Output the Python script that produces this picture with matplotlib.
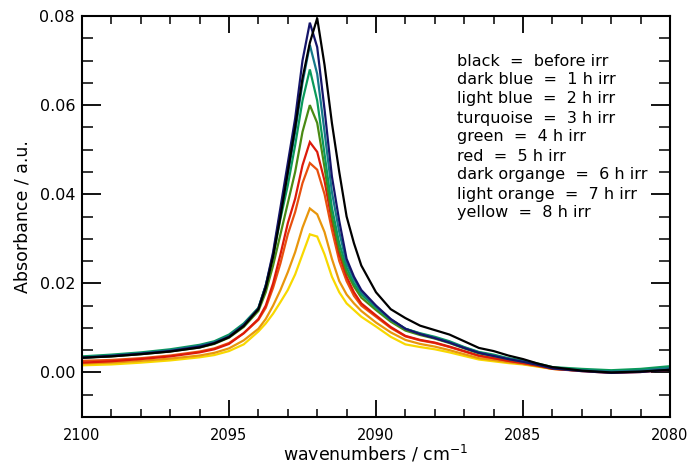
import matplotlib
matplotlib.use("Agg")
import matplotlib.pyplot as plt
from matplotlib.ticker import MultipleLocator, FormatStrFormatter

# Wavenumber grid (cm^-1), shared by all spectra
wavenumber = [2100, 2099, 2098, 2097, 2096, 2095.5, 2095, 2094.5, 2094, 2093.75,
              2093.5, 2093.25, 2093, 2092.75, 2092.5, 2092.25, 2092, 2091.75, 2091.5, 2091.25,
              2091, 2090.75, 2090.5, 2090, 2089.5, 2089, 2088.5, 2088, 2087.5, 2087,
              2086.5, 2086, 2085.5, 2085, 2084.5, 2084, 2083, 2082, 2081, 2080]

before_irr = [0.0033, 0.0036, 0.0041, 0.0047, 0.0056, 0.0065, 0.0079, 0.0104, 0.0142, 0.0190,
              0.0260, 0.0350, 0.0450, 0.0550, 0.0660, 0.0740, 0.0795, 0.0690, 0.0560, 0.0450,
              0.0350, 0.0290, 0.0240, 0.0180, 0.0142, 0.0122, 0.0105, 0.0095, 0.0085, 0.0070,
              0.0055, 0.0048, 0.0038, 0.0030, 0.0020, 0.0012, 0.0004, 0.0000, 0.0002, 0.0006]
irr_1h = [0.0033, 0.0037, 0.0042, 0.0048, 0.0058, 0.0066, 0.0080, 0.0106, 0.0143, 0.0195,
          0.0270, 0.0370, 0.0470, 0.0570, 0.0700, 0.0785, 0.0730, 0.0590, 0.0440, 0.0340,
          0.0255, 0.0215, 0.0185, 0.0150, 0.0120, 0.0098, 0.0086, 0.0077, 0.0067, 0.0055,
          0.0044, 0.0037, 0.0030, 0.0024, 0.0017, 0.0009, 0.0003, -0.0001, 0.0001, 0.0006]
irr_2h = [0.0034, 0.0038, 0.0043, 0.0050, 0.0060, 0.0068, 0.0082, 0.0108, 0.0144, 0.0195,
          0.0265, 0.0360, 0.0445, 0.0540, 0.0650, 0.0735, 0.0670, 0.0540, 0.0405, 0.0315,
          0.0245, 0.0210, 0.0180, 0.0148, 0.0119, 0.0098, 0.0087, 0.0078, 0.0068, 0.0056,
          0.0045, 0.0038, 0.0031, 0.0025, 0.0018, 0.0010, 0.0005, 0.0002, 0.0004, 0.0010]
irr_3h = [0.0036, 0.0040, 0.0045, 0.0052, 0.0062, 0.0070, 0.0085, 0.0110, 0.0145, 0.0195,
          0.0260, 0.0345, 0.0420, 0.0510, 0.0610, 0.0680, 0.0610, 0.0490, 0.0370, 0.0290,
          0.0235, 0.0200, 0.0175, 0.0145, 0.0118, 0.0098, 0.0088, 0.0080, 0.0070, 0.0057,
          0.0046, 0.0040, 0.0032, 0.0027, 0.0020, 0.0012, 0.0008, 0.0005, 0.0008, 0.0014]
irr_4h = [0.0033, 0.0036, 0.0041, 0.0047, 0.0056, 0.0064, 0.0078, 0.0102, 0.0138, 0.0180,
          0.0240, 0.0310, 0.0380, 0.0450, 0.0540, 0.0600, 0.0560, 0.0460, 0.0350, 0.0275,
          0.0225, 0.0193, 0.0168, 0.0140, 0.0114, 0.0094, 0.0084, 0.0076, 0.0066, 0.0054,
          0.0043, 0.0037, 0.0030, 0.0024, 0.0017, 0.0010, 0.0005, 0.0002, 0.0004, 0.0010]
irr_5h = [0.0022, 0.0025, 0.0030, 0.0036, 0.0045, 0.0052, 0.0064, 0.0088, 0.0120, 0.0150,
          0.0200, 0.0265, 0.0335, 0.0390, 0.0465, 0.0517, 0.0495, 0.0430, 0.0340, 0.0265,
          0.0215, 0.0180, 0.0155, 0.0128, 0.0102, 0.0082, 0.0073, 0.0067, 0.0058, 0.0048,
          0.0038, 0.0032, 0.0026, 0.0021, 0.0015, 0.0008, 0.0003, -0.0001, 0.0001, 0.0006]
irr_6h = [0.0026, 0.0028, 0.0032, 0.0038, 0.0047, 0.0054, 0.0066, 0.0088, 0.0118, 0.0145,
          0.0190, 0.0245, 0.0310, 0.0360, 0.0425, 0.0470, 0.0455, 0.0400, 0.0320, 0.0250,
          0.0205, 0.0172, 0.0150, 0.0125, 0.0100, 0.0081, 0.0072, 0.0066, 0.0057, 0.0047,
          0.0037, 0.0032, 0.0026, 0.0021, 0.0016, 0.0010, 0.0006, 0.0003, 0.0005, 0.0010]
irr_7h = [0.0020, 0.0022, 0.0026, 0.0031, 0.0038, 0.0044, 0.0054, 0.0072, 0.0098, 0.0120,
          0.0150, 0.0185, 0.0225, 0.0270, 0.0325, 0.0368, 0.0355, 0.0315, 0.0255, 0.0205,
          0.0175, 0.0155, 0.0138, 0.0112, 0.0090, 0.0073, 0.0064, 0.0058, 0.0050, 0.0041,
          0.0032, 0.0028, 0.0023, 0.0019, 0.0014, 0.0008, 0.0004, 0.0001, 0.0003, 0.0008]
irr_8h = [0.0016, 0.0018, 0.0022, 0.0027, 0.0034, 0.0039, 0.0048, 0.0063, 0.0092, 0.0110,
          0.0132, 0.0158, 0.0185, 0.0220, 0.0265, 0.0310, 0.0305, 0.0265, 0.0215, 0.0180,
          0.0155, 0.0140, 0.0125, 0.0103, 0.0080, 0.0063, 0.0057, 0.0052, 0.0045, 0.0037,
          0.0029, 0.0025, 0.0021, 0.0018, 0.0013, 0.0008, 0.0004, 0.0001, 0.0004, 0.0008]

series = [before_irr, irr_1h, irr_2h, irr_3h, irr_4h, irr_5h, irr_6h, irr_7h, irr_8h]
colors = ["#000000", "#15156a", "#16788a", "#0a9a5a", "#4a8a14",
          "#dc1a0a", "#e8500e", "#e8960c", "#f8d800"]

legend_lines = ["black  =  before irr", "dark blue  =  1 h irr", "light blue  =  2 h irr",
                "turquoise  =  3 h irr", "green  =  4 h irr", "red  =  5 h irr",
                "dark organge  =  6 h irr", "light orange  =  7 h irr", "yellow  =  8 h irr"]

plt.rcParams["font.family"] = ["DejaVu Sans"]

fig = plt.figure(figsize=(6.93, 4.67), dpi=100)
ax = fig.add_axes([82 / 693, 1 - 417 / 467, (670 - 82) / 693, (417 - 16) / 467])

# later spectra drawn first so the earlier ones sit on top
for y, c in reversed(list(zip(series, colors))):
    ax.plot(wavenumber, y, color=c, lw=1.6, solid_joinstyle="miter")

ax.set_xlim(2100, 2080)
ax.set_ylim(-0.01, 0.08)
ax.xaxis.set_major_locator(MultipleLocator(5))
ax.xaxis.set_minor_locator(MultipleLocator(1))
ax.yaxis.set_major_locator(MultipleLocator(0.02))
ax.yaxis.set_minor_locator(MultipleLocator(0.005))
ax.xaxis.set_major_formatter(FormatStrFormatter("%d"))
ax.yaxis.set_major_formatter(FormatStrFormatter("%.2f"))

for s in ax.spines.values():
    s.set_linewidth(1.5)

ax.tick_params(axis="x", which="major", direction="in", length=12, width=1.3,
               top=True, labelsize=10.5, pad=8)
ax.tick_params(axis="x", which="minor", direction="in", length=5.5, width=1.1, top=True)
ax.tick_params(axis="y", which="major", direction="in", length=14, width=1.3,
               right=True, labelsize=11.5, pad=5)
ax.tick_params(axis="y", which="minor", direction="in", length=8, width=1.1, right=True)

ax.set_xlabel("wavenumbers / cm$^{-1}$", fontsize=12.5, labelpad=0)
ax.set_ylabel("Absorbance / a.u.", fontsize=12.5, labelpad=6)

for i, t in enumerate(legend_lines):
    fig.text(457 / 693, 1 - (61 + 19 * i) / 467, t, fontsize=11.5,
             ha="left", va="center")

fig.savefig("out.png", dpi=100)
